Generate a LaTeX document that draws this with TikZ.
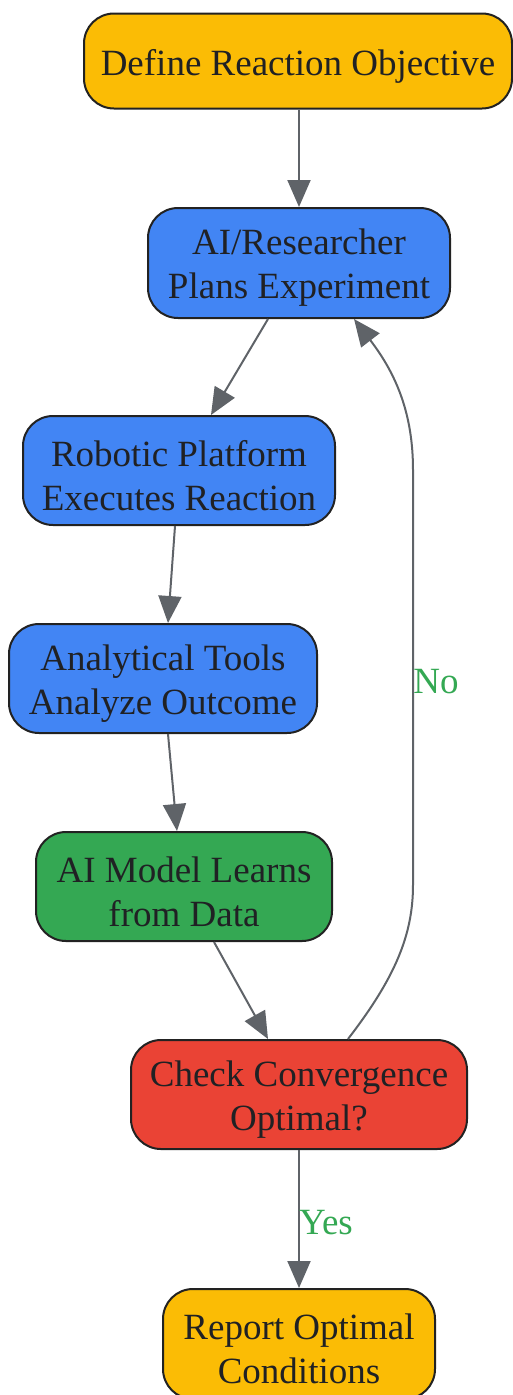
\documentclass[tikz,border=0pt]{standalone}
\usepackage{fontspec}
\setmainfont{Liberation Serif}
\usetikzlibrary{arrows.meta}
\definecolor{cyellow}{HTML}{FBBC05}
\definecolor{cblue}{HTML}{4285F4}
\definecolor{cgreen}{HTML}{34A853}
\definecolor{cred}{HTML}{EA4335}
\definecolor{cborder}{HTML}{222222}
\definecolor{ctext}{HTML}{202124}
\definecolor{carrow}{HTML}{5F6368}
\tikzset{
  box/.style={draw=cborder, line width=2pt, rounded corners=30pt, inner sep=0pt},
  txt/.style={align=center, text=ctext, font=\fontsize{37}{44}\selectfont, inner sep=0pt, yshift=-5pt},
  arr/.style={draw=carrow, line width=2pt, -{Triangle[length=27pt,width=23pt]}},
  lbl/.style={text=cgreen, font=\fontsize{37}{44}\selectfont, inner sep=0pt},
}
\begin{document}
\begin{tikzpicture}[x=1pt,y=-1pt]
\useasboundingbox (0,0) rectangle (513,1395);
\node[box, fill=cyellow, minimum width=428pt, minimum height=95pt] (d) at (298,61) {};
\node[txt] (dt) at (d.center) {Define Reaction Objective};
\node[box, fill=cblue, minimum width=302pt, minimum height=110pt] (p) at (299,263) {};
\node[txt] (pt) at (p.center) {AI/Researcher\\Plans Experiment};
\node[box, fill=cblue, minimum width=312pt, minimum height=109pt] (r) at (179,470.5) {};
\node[txt] (rt) at (r.center) {Robotic Platform\\Executes Reaction};
\node[box, fill=cblue, minimum width=308pt, minimum height=109pt] (a) at (163,678.5) {};
\node[txt] (at) at (a.center) {Analytical Tools\\Analyze Outcome};
\node[box, fill=cgreen, minimum width=296pt, minimum height=109pt] (m) at (184,886.5) {};
\node[txt] (mt) at (m.center) {AI Model Learns\\from Data};
\node[box, fill=cred, minimum width=336pt, minimum height=109pt] (c) at (299,1094.5) {};
\node[txt] (ct) at (c.center) {Check Convergence\\Optimal?};
\node[box, fill=cyellow, minimum width=272pt, minimum height=110pt] (o) at (299,1344) {};
\node[txt] (ot) at (o.center) {Report Optimal\\Conditions};

\draw[arr] ([xshift=1pt]d.south) -- (p.north);
\draw[arr] ([xshift=-31pt]p.south) -- ([xshift=32pt]r.north);
\draw[arr] ([xshift=-4pt]r.south) -- ([xshift=5pt]a.north);
\draw[arr] ([xshift=5pt]a.south) -- ([xshift=-7pt]m.north);
\draw[arr] ([xshift=30pt]m.south) -- ([xshift=-31pt]c.north);
\draw[arr] (c.south) -- node[lbl, right=-1pt, pos=0.5, yshift=-4pt] (yes) {Yes} (o.north);
\draw[arr] ([xshift=49pt]c.north) .. controls (395,978) and (413,935) .. (413,885)
  -- (413,470) .. controls (413,415) and (397,375) .. ([xshift=55pt]p.south);
\node[lbl] (no) at (436,682) {No};
\end{tikzpicture}
\end{document}
